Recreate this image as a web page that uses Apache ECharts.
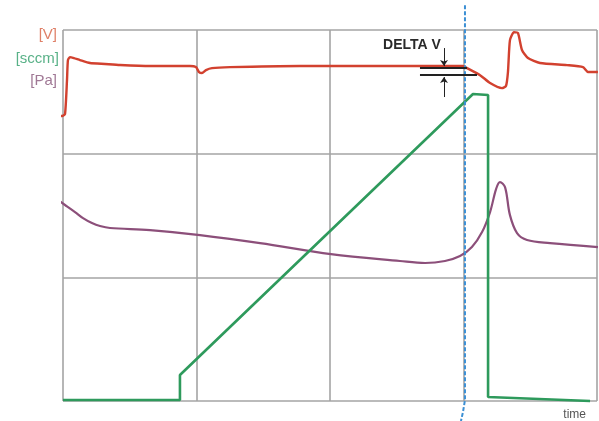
<!DOCTYPE html>
<html><head><meta charset="utf-8">
<script src="https://cdn.jsdelivr.net/npm/echarts@6/dist/echarts.min.js"></script>
<style>html,body{margin:0;padding:0;background:#fff}#c{width:599px;height:421px}</style>
</head><body><div id="c"></div>
<script>
// time axis units: 4 grid columns (0..4); value axis units: 3 grid rows (0..3)
const voltageX = [-0.112,-0.007,0.015,0.030,0.037,0.052,0.082,0.127,0.202,0.315,0.427,0.652,0.951,0.996,1.019,1.041,1.071,1.116,1.251,1.775,2.524,2.996,3.026,3.124,3.199,3.288,3.318,3.333,3.348,3.378,3.408,3.438,3.483,3.573,3.775,3.895,3.933,4.007];
const voltageY = [2.304,2.304,2.320,2.595,2.757,2.781,2.773,2.757,2.733,2.725,2.717,2.709,2.709,2.700,2.660,2.652,2.676,2.692,2.700,2.709,2.709,2.709,2.692,2.635,2.571,2.530,2.547,2.660,2.918,2.983,2.975,2.838,2.773,2.733,2.716,2.700,2.660,2.660];
const flowX = [0,0.876,0.876,3.071,3.184,3.184,3.948];
const flowY = [0.008,0.008,0.210,2.482,2.474,0.032,0];
const pressureX = [-0.060,0.015,0.090,0.150,0.217,0.277,0.352,0.652,1.026,1.476,2.007,2.524,2.712,2.861,2.974,3.063,3.139,3.199,3.244,3.273,3.311,3.348,3.401,3.476,3.648,4.007];
const pressureY = [1.641,1.585,1.528,1.479,1.439,1.415,1.399,1.382,1.342,1.277,1.188,1.132,1.116,1.132,1.172,1.245,1.366,1.528,1.714,1.770,1.730,1.503,1.358,1.302,1.277,1.245];
const markerX = [3.011,3.011,2.996,2.981];
const markerY = [3.201,0.008,-0.089,-0.162];
const unitLabels = ['[V]','[sccm]','[Pa]'];
const annotationText = 'DELTA V';
const axisName = 'time';
// delta-V annotation geometry (data units)
const deltaUpperX = [2.674,3.026], deltaUpperY = 2.692;
const deltaLowerX = [2.674,3.101], deltaLowerY = 2.635;
const arrowX = 2.854;
const arrowDown = [2.854,2.708], arrowUp = [2.458,2.619];
const textPos = [2.614,2.878];

const zip = (a,b)=>a.map((v,i)=>[v,b[i]]);
const chart = echarts.init(document.getElementById('c'));
chart.setOption({
  animation:false,
  backgroundColor:'#fff',
  grid:{left:63,right:2,top:30,bottom:20},
  xAxis:{type:'value',min:0,max:4,interval:1,axisLabel:{show:false},axisTick:{show:false},axisLine:{show:false},
    splitLine:{show:true,lineStyle:{color:'#a4a4a4',width:1.6}}},
  yAxis:{type:'value',min:0,max:3,interval:1,axisLabel:{show:false},axisTick:{show:false},axisLine:{show:false},
    splitLine:{show:true,lineStyle:{color:'#a4a4a4',width:1.6}}},
  title:{text:axisName,right:8,top:404,textStyle:{fontSize:12,fontWeight:'normal',color:'#555',fontFamily:'Liberation Sans'}},
  graphic:[
    {type:'text',x:57,y:27,style:{text:unitLabels[0],align:'right',fill:'#df8068',font:'15px "Liberation Sans"'}},
    {type:'text',x:59,y:51,style:{text:unitLabels[1],align:'right',fill:'#58b187',font:'15px "Liberation Sans"'}},
    {type:'text',x:57,y:73,style:{text:unitLabels[2],align:'right',fill:'#a07895',font:'15px "Liberation Sans"'}}
  ],
  series:[
    {type:'line',data:zip(pressureX,pressureY),showSymbol:false,smooth:0.35,clip:false,
      lineStyle:{color:'#8c4f7a',width:2.2}},
    {type:'line',data:zip(flowX,flowY),showSymbol:false,clip:false,
      lineStyle:{color:'#2e9a5c',width:2.6}},
    {type:'line',data:zip(voltageX,voltageY),showSymbol:false,smooth:0.2,clip:false,
      lineStyle:{color:'#d2412f',width:2.4},
      markLine:{silent:true,symbol:['none','none'],lineStyle:{color:'#222',width:2,type:'solid'},label:{show:false},
        data:[
          [{coord:[deltaUpperX[0],deltaUpperY]},{coord:[deltaUpperX[1],deltaUpperY]}],
          [{coord:[deltaLowerX[0],deltaLowerY]},{coord:[deltaLowerX[1],deltaLowerY]}],
          [{coord:[arrowX,arrowDown[0]],symbol:'none'},{coord:[arrowX,arrowDown[1]],symbol:'arrow',symbolSize:6,lineStyle:{width:1}}],
          [{coord:[arrowX,arrowUp[0]],symbol:'none'},{coord:[arrowX,arrowUp[1]],symbol:'arrow',symbolSize:6,lineStyle:{width:1}}]
        ]},
      markPoint:{silent:true,symbol:'circle',symbolSize:1,itemStyle:{color:'rgba(0,0,0,0)'},
        data:[{coord:textPos,label:{show:true,position:'inside',formatter:annotationText,color:'#2a2a2a',fontSize:14,fontWeight:'bold',fontFamily:'Liberation Sans'}}]}},
    {type:'line',data:zip(markerX,markerY),showSymbol:false,clip:false,
      lineStyle:{color:'#3b8fd4',width:2,type:[4,2]}}
  ]
});
</script></body></html>
